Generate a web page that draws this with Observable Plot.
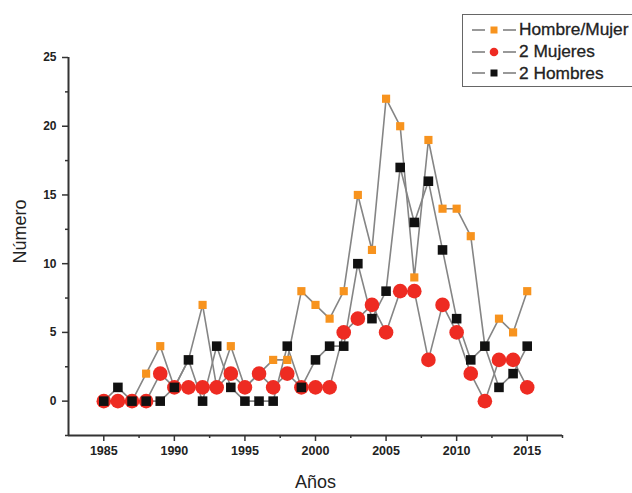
<!DOCTYPE html>
<html>
<head>
<meta charset="utf-8">
<script src="https://cdn.jsdelivr.net/npm/d3@7"></script>
<script src="https://cdn.jsdelivr.net/npm/@observablehq/plot@0.6"></script>
<style>
  html, body { margin: 0; padding: 0; background: #fff; }
  #wrap { position: relative; width: 632px; height: 493px; overflow: hidden; font-family: "Liberation Sans", Arial, sans-serif; }
  #legend { position: absolute; left: 462px; top: 14px; width: 220px; height: 73px; border: 1.5px solid #666; background: #fff; box-sizing: border-box; padding-top: 4px; }
  .row { display: flex; align-items: center; height: 21.7px; font-size: 17.3px; color: #222; white-space: nowrap; -webkit-text-stroke: 0.3px #222; }
  .row svg { margin-left: 9px; margin-right: 3px; flex: none; }
</style>
</head>
<body>
<div id="wrap"></div>
<script>
const years = d3.range(1985, 2016);
const seriesNames = ["Hombre/Mujer", "2 Mujeres", "2 Hombres"];
const hombreMujer = [0,0,0,2,4,1,3,7,1,4,1,2,3,3,8,7,6,8,15,11,22,20,9,19,14,14,12,4,6,5,8];
const dosMujeres  = [0,0,0,0,2,1,1,1,1,2,1,2,1,2,1,1,1,5,6,7,5,8,8,3,7,5,2,0,3,3,1];
const dosHombres  = [0,1,0,0,0,1,3,0,4,1,0,0,0,4,1,3,4,4,10,6,8,17,13,16,11,6,3,4,1,2,4];
const xMajorTicks = [1985, 1990, 1995, 2000, 2005, 2010, 2015];
const xMinorTicks = [1987.5, 1992.5, 1997.5, 2002.5, 2007.5, 2012.5, 2017.5];
const yMajorTicks = [0, 5, 10, 15, 20, 25];
const yMinorTicks = [-2.5, 2.5, 7.5, 12.5, 17.5, 22.5];
const xLabel = "Años";
const yLabel = "Número";

const colors = {"Hombre/Mujer": "#f7931e", "2 Mujeres": "#ee2b22", "2 Hombres": "#111111"};
const symbols = {"Hombre/Mujer": "square", "2 Mujeres": "circle", "2 Hombres": "square"};
const radii = {"Hombre/Mujer": 4.6, "2 Mujeres": 7.3, "2 Hombres": 5.4};

const valuesBySeries = [hombreMujer, dosMujeres, dosHombres];
const data = [];
seriesNames.forEach((s, i) => years.forEach((yr, j) => data.push({series: s, year: yr, value: valuesBySeries[i][j]})));

const marks = [
  Plot.ruleY([-2.5], {stroke: "#333", strokeWidth: 2}),
  Plot.ruleX([1982.5], {stroke: "#333", strokeWidth: 2}),
  Plot.axisX({ticks: xMajorTicks, tickSize: 6, tickPadding: 5, tickFormat: d => String(d), fontWeight: "bold", fontSize: 12.5, stroke: "#333", strokeWidth: 1.5, fill: "#222", label: null}),
  Plot.axisX({ticks: xMinorTicks, tickSize: 3, tickFormat: () => "", stroke: "#333", strokeWidth: 1.5, label: null}),
  Plot.axisY({ticks: yMajorTicks, tickSize: 6, tickPadding: 6, tickFormat: d => String(d), fontWeight: "bold", fontSize: 12, stroke: "#333", strokeWidth: 1.5, fill: "#222", label: null}),
  Plot.axisY({ticks: yMinorTicks, tickSize: 3, tickFormat: () => "", stroke: "#333", strokeWidth: 1.5, label: null}),
  Plot.text([xLabel], {frameAnchor: "bottom", dy: 52, fontSize: 18, fill: "#222"}),
  Plot.text([yLabel], {frameAnchor: "left", rotate: -90, dx: -48, dy: 17, fontSize: 18, fill: "#222"})
];
seriesNames.forEach(s => {
  const d = data.filter(r => r.series === s);
  marks.push(Plot.line(d, {x: "year", y: "value", stroke: "#858585", strokeWidth: 1.6}));
});
seriesNames.forEach(s => {
  const d = data.filter(r => r.series === s);
  marks.push(Plot.dot(d, {x: "year", y: "value", symbol: symbols[s], r: radii[s], fill: colors[s], stroke: "none"}));
});

const chart = Plot.plot({
  width: 632,
  height: 493,
  marginLeft: 68,
  marginRight: 70,
  marginTop: 57,
  marginBottom: 58,
  x: {domain: [1982.5, 2017.5]},
  y: {domain: [-2.5, 25]},
  style: {fontFamily: "'Liberation Sans', Arial, sans-serif", background: "#fff"},
  marks
});
const wrap = document.getElementById("wrap");
wrap.appendChild(chart);

// Legend overlay (top right, inside the plot as in the reference)
const legend = document.createElement("div");
legend.id = "legend";
seriesNames.forEach(s => {
  const row = document.createElement("div");
  row.className = "row";
  const sym = symbols[s] === "circle"
    ? `<circle cx="22" cy="7" r="4.3" fill="${colors[s]}"/>`
    : `<rect x="18.5" y="3.5" width="7" height="7" fill="${colors[s]}"/>`;
  row.innerHTML = `<svg width="44" height="14"><line x1="0" x2="44" y1="7" y2="7" stroke="#777" stroke-width="1.5"/>` +
    `<rect x="13" y="1" width="18" height="12" fill="#fff"/>${sym}</svg><span>${s}</span>`;
  legend.appendChild(row);
});
wrap.appendChild(legend);
</script>
</body>
</html>
